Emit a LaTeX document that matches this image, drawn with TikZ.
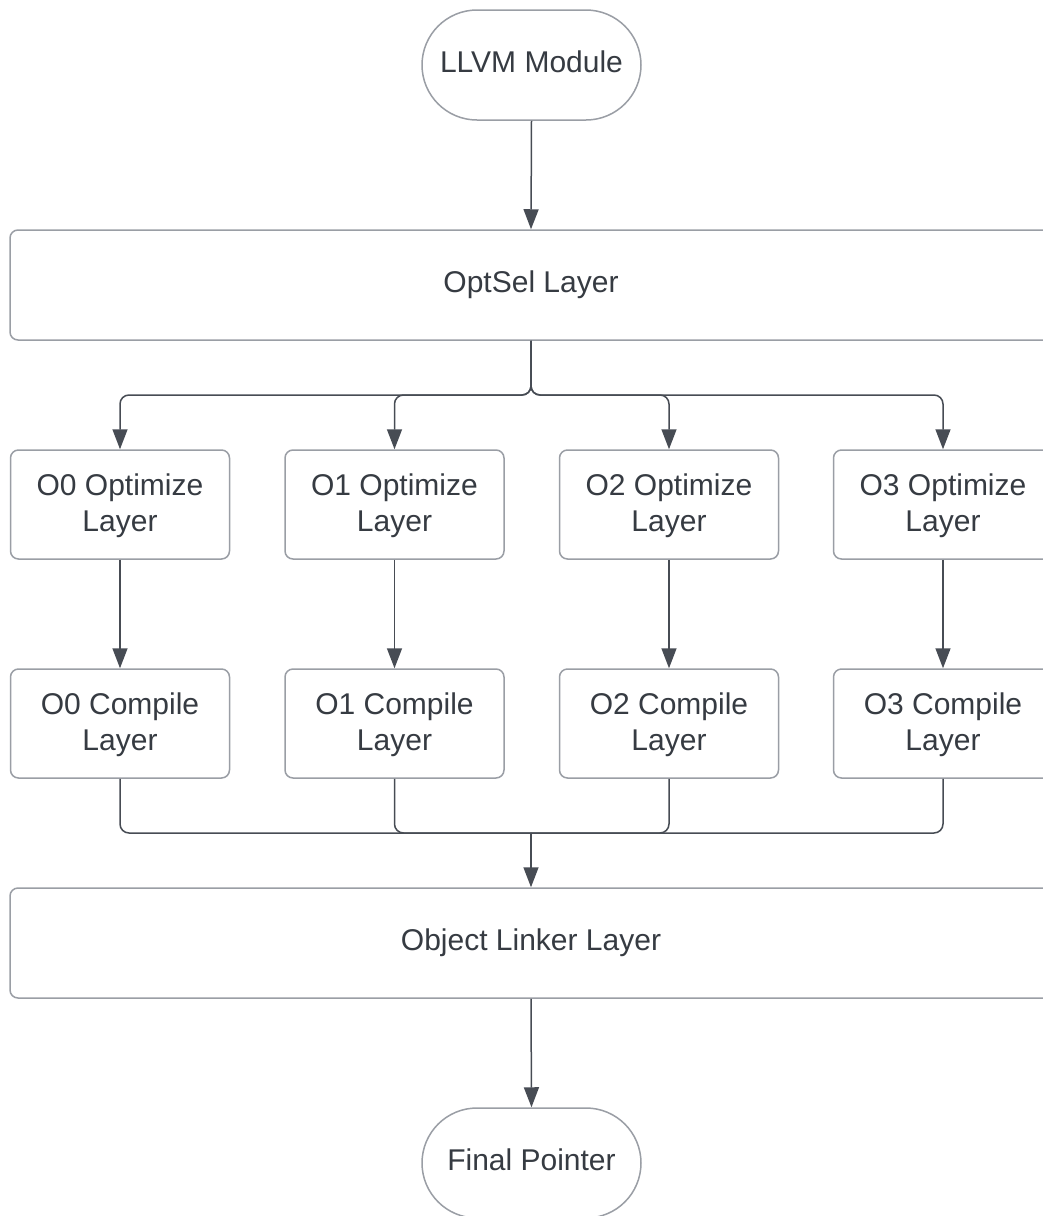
\documentclass[tikz,border=0pt]{standalone}
\usepackage{fontspec}
\setmainfont{Liberation Sans}
\usetikzlibrary{arrows.meta,shapes.misc}
\definecolor{boxline}{HTML}{9A9EA5}
\definecolor{conline}{HTML}{474C54}
\definecolor{txt}{HTML}{363B42}
\tikzset{
  base/.style={draw=boxline, line width=1.5pt, fill=white, inner sep=0pt, text=txt,
    font=\fontsize{30}{36}\selectfont, align=center},
  oneline/.style={text depth=7pt},
  stadium/.style={base, oneline, rounded rectangle, minimum width=219pt, minimum height=110pt},
  widebox/.style={base, oneline, rectangle, rounded corners=8pt, minimum width=1042pt, minimum height=110pt},
  smallbox/.style={base, rectangle, rounded corners=8pt, minimum width=219pt, minimum height=109pt},
  conn/.style={draw=conline, line width=1.5pt, rounded corners=9pt},
  arr/.style={conn, -{Triangle[length=20pt,width=15pt]}}
}
\begin{document}
\begin{tikzpicture}[x=1pt,y=1pt]
\useasboundingbox (0,0) rectangle (1043,-1216);
\node[stadium] (llvm) at (531.5,-65) {LLVM Module};
\node[widebox] (opt) at (531,-285) {OptSel Layer};
\foreach \i/\x in {0/120,1/394.5,2/669,3/943}{
  \node[smallbox] (o\i) at (\x,-504.5) {\strut O\i{} Optimize\\Layer};
  \node[smallbox] (c\i) at (\x,-723.5) {\strut O\i{} Compile\\Layer};
}
\node[widebox] (link) at (531,-943) {Object Linker Layer};
\node[stadium] (final) at (531.5,-1163) {Final Pointer};
\coordinate (split) at (531,-395);
\coordinate (merge) at (531,-833);
\draw[arr] (llvm.south) -- (opt.north);
\foreach \i in {0,1,2,3}{
  \draw[arr] (opt.south) -- (split) -| (o\i.north);
  \draw[arr] (o\i.south) -- (c\i.north);
  \draw[conn] (c\i.south) |- (merge);
}
\draw[arr] (merge) -- (link.north);
\draw[arr] (link.south) -- (final.north);
\end{tikzpicture}
\end{document}
